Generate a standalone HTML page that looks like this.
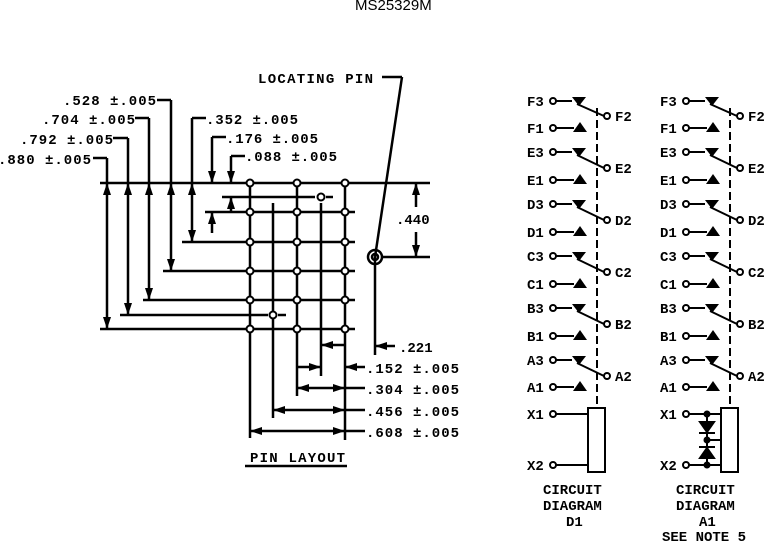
<!DOCTYPE html>
<html><head><meta charset="utf-8"><style>
html,body{margin:0;padding:0;background:#fff;}
svg{display:block}
text{font-family:"Liberation Mono",monospace;font-weight:bold;font-size:14px;fill:#000}
</style></head><body>
<svg width="777" height="542" viewBox="0 0 777 542" xmlns="http://www.w3.org/2000/svg">
<text x="355" y="10" style="font-family:'Liberation Sans',sans-serif;font-weight:normal;font-size:15px">MS25329M</text>
<g stroke="#000" stroke-width="2.5" fill="none">
<line x1="100" y1="183" x2="430" y2="183"/>
<line x1="222" y1="197" x2="315" y2="197"/><line x1="326" y1="197" x2="333" y2="197"/>
<line x1="205" y1="212" x2="355" y2="212"/>
<line x1="182" y1="242" x2="355" y2="242"/>
<line x1="163" y1="271" x2="355" y2="271"/>
<line x1="143" y1="300" x2="355" y2="300"/>
<line x1="120" y1="315" x2="268" y2="315"/><line x1="278" y1="315" x2="286" y2="315"/>
<line x1="100" y1="329" x2="355" y2="329"/>
<line x1="250" y1="183" x2="250" y2="438"/>
<line x1="273" y1="203" x2="273" y2="418"/>
<line x1="297" y1="183" x2="297" y2="396"/>
<line x1="321" y1="203" x2="321" y2="376"/>
<line x1="345" y1="183" x2="345" y2="440"/>
<line x1="107" y1="158" x2="107" y2="329"/><line x1="93" y1="158" x2="107" y2="158"/>
<line x1="128" y1="138" x2="128" y2="315"/><line x1="113" y1="138" x2="128" y2="138"/>
<line x1="149" y1="118" x2="149" y2="300"/><line x1="135" y1="118" x2="149" y2="118"/>
<line x1="171" y1="100" x2="171" y2="271"/><line x1="157" y1="100" x2="171" y2="100"/>
<line x1="192" y1="118" x2="192" y2="242"/><line x1="192" y1="118" x2="206" y2="118"/>
<line x1="212" y1="137" x2="212" y2="183"/><line x1="212" y1="137" x2="226" y2="137"/>
<line x1="212" y1="212" x2="212" y2="233"/>
<line x1="231" y1="156" x2="231" y2="183"/><line x1="231" y1="156" x2="245" y2="156"/>
<line x1="231" y1="197" x2="231" y2="212"/>
<line x1="416" y1="183" x2="416" y2="207"/><line x1="416" y1="232" x2="416" y2="257"/>
<line x1="382" y1="257" x2="430" y2="257"/>
<line x1="375" y1="257" x2="375" y2="355"/>
<line x1="375" y1="257" x2="402" y2="77"/><line x1="382" y1="77" x2="402" y2="77"/>
<circle cx="375" cy="257" r="7"/><circle cx="375" cy="257" r="3"/>
<line x1="375" y1="346" x2="395" y2="346"/>
<line x1="321" y1="345" x2="345" y2="345"/>
<line x1="297" y1="367" x2="321" y2="367"/>
<line x1="345" y1="367" x2="365" y2="367"/>
<line x1="297" y1="388" x2="365" y2="388"/>
<line x1="273" y1="410" x2="365" y2="410"/>
<line x1="250" y1="431" x2="365" y2="431"/>
<line x1="245" y1="466" x2="347" y2="466"/>
</g>
<g fill="#000">
<polygon points="107,183 103,195 111,195"/><polygon points="107,329 103,317 111,317"/>
<polygon points="128,183 124,195 132,195"/><polygon points="128,315 124,303 132,303"/>
<polygon points="149,183 145,195 153,195"/><polygon points="149,300 145,288 153,288"/>
<polygon points="171,183 167,195 175,195"/><polygon points="171,271 167,259 175,259"/>
<polygon points="192,183 188,195 196,195"/><polygon points="192,242 188,230 196,230"/>
<polygon points="212,183 208,171 216,171"/><polygon points="212,212 208,224 216,224"/>
<polygon points="231,183 227,171 235,171"/><polygon points="231,197 227,209 235,209"/>
<polygon points="416,183 412,195 420,195"/><polygon points="416,257 412,245 420,245"/>
<polygon points="375,346 387,342 387,350"/>
<polygon points="321,345 333,341 333,349"/>
<polygon points="321,367 309,363 309,371"/><polygon points="345,367 357,363 357,371"/>
<polygon points="297,388 309,384 309,392"/><polygon points="345,388 333,384 333,392"/>
<polygon points="273,410 285,406 285,414"/><polygon points="345,410 333,406 333,414"/>
<polygon points="250,431 262,427 262,435"/><polygon points="345,431 333,427 333,435"/>
</g>
<g fill="#fff" stroke="#000" stroke-width="2">
<circle cx="250" cy="183" r="3.5"/><circle cx="297" cy="183" r="3.5"/><circle cx="345" cy="183" r="3.5"/>
<circle cx="321" cy="197" r="3.5"/>
<circle cx="250" cy="212" r="3.5"/><circle cx="297" cy="212" r="3.5"/><circle cx="345" cy="212" r="3.5"/>
<circle cx="250" cy="242" r="3.5"/><circle cx="297" cy="242" r="3.5"/><circle cx="345" cy="242" r="3.5"/>
<circle cx="250" cy="271" r="3.5"/><circle cx="297" cy="271" r="3.5"/><circle cx="345" cy="271" r="3.5"/>
<circle cx="250" cy="300" r="3.5"/><circle cx="297" cy="300" r="3.5"/><circle cx="345" cy="300" r="3.5"/>
<circle cx="273" cy="315" r="3.5"/>
<circle cx="250" cy="329" r="3.5"/><circle cx="297" cy="329" r="3.5"/><circle cx="345" cy="329" r="3.5"/>
</g>
<text x="63" y="105" textLength="93">.528 ±.005</text>
<text x="42" y="124" textLength="93">.704 ±.005</text>
<text x="20" y="144" textLength="93">.792 ±.005</text>
<text x="-2" y="164" textLength="93">.880 ±.005</text>
<text x="206" y="124" textLength="92">.352 ±.005</text>
<text x="226" y="143" textLength="92">.176 ±.005</text>
<text x="245" y="161" textLength="92">.088 ±.005</text>
<text x="258" y="83" textLength="115">LOCATING PIN</text>
<text x="396" y="224">.440</text>
<text x="399" y="352">.221</text>
<text x="366" y="373" textLength="93">.152 ±.005</text>
<text x="366" y="394" textLength="93">.304 ±.005</text>
<text x="366" y="416" textLength="93">.456 ±.005</text>
<text x="366" y="437" textLength="93">.608 ±.005</text>
<text x="250" y="462" textLength="95">PIN LAYOUT</text>
<g id="cd">
<g stroke="#000" stroke-width="2" fill="none">
<line x1="597" y1="108" x2="597" y2="408" stroke-dasharray="8,4"/>
<line x1="556" y1="101" x2="572" y2="101"/><line x1="577" y1="104" x2="604" y2="116"/>
<line x1="556" y1="152" x2="572" y2="152"/><line x1="577" y1="155" x2="604" y2="168"/>
<line x1="556" y1="204" x2="572" y2="204"/><line x1="577" y1="207" x2="604" y2="220"/>
<line x1="556" y1="256" x2="572" y2="256"/><line x1="577" y1="259" x2="604" y2="272"/>
<line x1="556" y1="308" x2="572" y2="308"/><line x1="577" y1="311" x2="604" y2="324"/>
<line x1="556" y1="360" x2="572" y2="360"/><line x1="577" y1="363" x2="604" y2="376"/>
<line x1="556" y1="128" x2="574" y2="128"/>
<line x1="556" y1="180" x2="574" y2="180"/>
<line x1="556" y1="232" x2="574" y2="232"/>
<line x1="556" y1="284" x2="574" y2="284"/>
<line x1="556" y1="336" x2="574" y2="336"/>
<line x1="556" y1="387" x2="574" y2="387"/>
<line x1="556" y1="414" x2="588" y2="414"/>
<line x1="556" y1="465" x2="588" y2="465"/>
<rect x="588" y="408" width="17" height="64" fill="#fff"/>
</g>
<g fill="#000">
<polygon points="572,97 586,97 579,106"/><polygon points="572,148 586,148 579,157"/>
<polygon points="572,200 586,200 579,209"/><polygon points="572,252 586,252 579,261"/>
<polygon points="572,304 586,304 579,313"/><polygon points="572,356 586,356 579,365"/>
<polygon points="573,132 587,132 580,122"/><polygon points="573,184 587,184 580,174"/>
<polygon points="573,236 587,236 580,226"/><polygon points="573,288 587,288 580,278"/>
<polygon points="573,340 587,340 580,330"/><polygon points="573,391 587,391 580,381"/>
</g>
<g fill="#fff" stroke="#000" stroke-width="2">
<circle cx="553" cy="101" r="3"/><circle cx="553" cy="128" r="3"/><circle cx="553" cy="152" r="3"/><circle cx="553" cy="180" r="3"/>
<circle cx="553" cy="204" r="3"/><circle cx="553" cy="232" r="3"/><circle cx="553" cy="256" r="3"/><circle cx="553" cy="284" r="3"/>
<circle cx="553" cy="308" r="3"/><circle cx="553" cy="336" r="3"/><circle cx="553" cy="360" r="3"/><circle cx="553" cy="387" r="3"/>
<circle cx="553" cy="414" r="3"/><circle cx="553" cy="465" r="3"/>
<circle cx="607" cy="116" r="3"/><circle cx="607" cy="168" r="3"/><circle cx="607" cy="220" r="3"/>
<circle cx="607" cy="272" r="3"/><circle cx="607" cy="324" r="3"/><circle cx="607" cy="376" r="3"/>
</g>
<text x="527" y="106">F3</text><text x="527" y="133">F1</text>
<text x="527" y="157">E3</text><text x="527" y="185">E1</text>
<text x="527" y="209">D3</text><text x="527" y="237">D1</text>
<text x="527" y="261">C3</text><text x="527" y="289">C1</text>
<text x="527" y="313">B3</text><text x="527" y="341">B1</text>
<text x="527" y="365">A3</text><text x="527" y="392">A1</text>
<text x="527" y="419">X1</text><text x="527" y="470">X2</text>
<text x="615" y="121">F2</text><text x="615" y="173">E2</text><text x="615" y="225">D2</text>
<text x="615" y="277">C2</text><text x="615" y="329">B2</text><text x="615" y="381">A2</text>
</g>
<text x="543" y="494">CIRCUIT</text>
<text x="543" y="510">DIAGRAM</text>
<text x="566" y="526">D1</text>
<use href="#cd" x="133" y="0"/>
<g stroke="#000" stroke-width="2" fill="#000">
<line x1="707" y1="414" x2="707" y2="465"/>
<line x1="707" y1="440" x2="721" y2="440"/>
<polygon points="700,422 714,422 707,432"/><line x1="699" y1="433" x2="715" y2="433"/>
<polygon points="700,458 714,458 707,448"/><line x1="699" y1="447" x2="715" y2="447"/>
<circle cx="707" cy="414" r="2.5"/><circle cx="707" cy="440" r="2.5"/><circle cx="707" cy="465" r="2.5"/>
</g>
<text x="676" y="494">CIRCUIT</text>
<text x="676" y="510">DIAGRAM</text>
<text x="699" y="526">A1</text>
<text x="662" y="541">SEE NOTE 5</text>
</svg>
</body></html>
